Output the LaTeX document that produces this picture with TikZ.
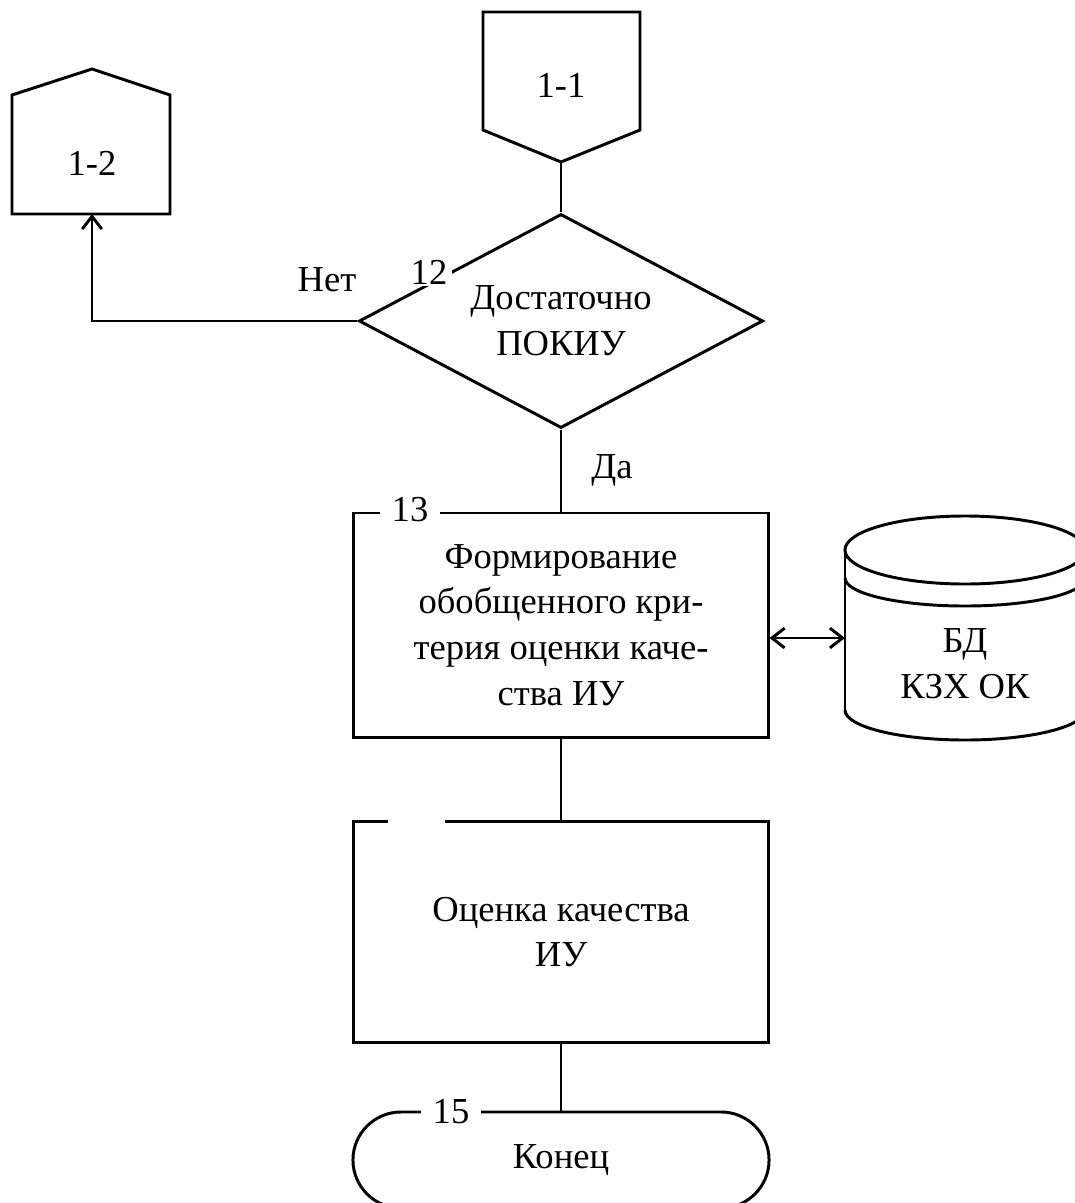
\documentclass[tikz,border=0pt]{standalone}
\usepackage{fontspec}
\setmainfont{Liberation Serif}
\usetikzlibrary{arrows.meta,shapes.geometric,shapes.misc}

\begin{document}
\begin{tikzpicture}[x=0.025cm,y=-0.025cm,line width=2.1pt,
    >={Straight Barb[length=9pt,width=14pt]},
    font=\fontsize{26}{32.5}\selectfont,
    block/.style={draw,rectangle,minimum width=10.35cm,inner sep=0pt,align=center},
    decision/.style={draw,diamond,aspect=1.89,minimum width=10.1cm,minimum height=5.35cm,inner sep=0pt,align=center},
    term/.style={draw,rounded rectangle,minimum width=10.4cm,minimum height=2.4cm,inner sep=0pt},
    numlabel/.style={fill=white,inner xsep=8pt,inner ysep=1pt}]
    \useasboundingbox (0,0) rectangle (1075,1203);
    \clip (0,0) rectangle (1075,1203);

    % Off-page connectors
    \draw (483,12) -- (640,12) -- (640,130) -- (561,162) -- (483,130) -- cycle;
    \coordinate (c11tip) at (561,162);
    \node (c11) at (561,85) {1-1};
    \draw (12,214) -- (12,95) -- (92,69) -- (170,95) -- (170,214) -- cycle;
    \coordinate (c12base) at (92,214);
    \node (c12) at (92,163) {1-2};

    % Blocks
    \node[decision] (d12) at (561,321) {Достаточно\\ПОКИУ};
    \node[block,minimum height=5.6cm] (b13) at (561,625)
        {Формирование\\обобщенного кри-\\терия оценки каче-\\ства ИУ};
    \node[block,minimum height=5.525cm] (b14) at (561,932) {Оценка качества\\ИУ};
    \node[term] (t15) at (561,1160) {Конец};

    % Database
    \draw (965,550) ellipse[x radius=3cm,y radius=0.85cm];
    \draw (845,578) arc[start angle=180,end angle=360,x radius=3cm,y radius=0.7cm];
    \draw (845,550) -- (845,710);
    \draw (1085,550) -- (1085,710);
    \draw (845,710) arc[start angle=180,end angle=360,x radius=3cm,y radius=0.75cm];
    \coordinate (bdside) at (845,638);
    \node[align=center] (bd) at (965,664) {БД\\КЗХ ОК};

    % Connections
    \draw (c11tip) -- (d12.north);
    \draw[->] (d12.west) -| (c12base);
    \draw (d12.south) -- (b13.north);
    \draw[<->] (bdside -| b13.east) -- (bdside);
    \draw (b13.south) -- (b14.north);
    \draw (b14.south) -- (t15.north);

    % Labels
    \node (no) at (327,280) {Нет};
    \node (yes) at (612,470) {Да};
    \node[numlabel,inner xsep=3pt] (n12) at (429,272) {12};
    \node[numlabel] (n13) at (410,510) {13};
    \node[numlabel] (n15) at (451,1112) {15};
    \fill[white] (388,817) rectangle (445,827);
\end{tikzpicture}
\end{document}
